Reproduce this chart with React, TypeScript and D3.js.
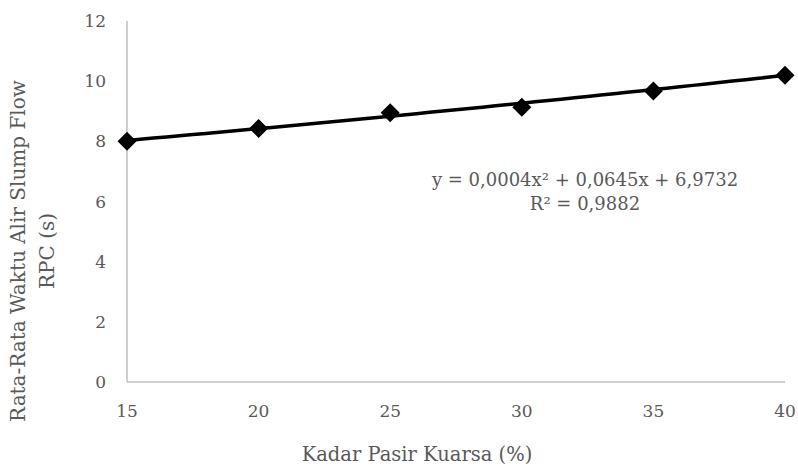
import React, { useEffect, useRef } from 'react'
import * as d3 from 'd3'

// data
const kadar = [15, 20, 25, 30, 35, 40]
const waktuAlir = [8.0, 8.43, 8.95, 9.13, 9.67, 10.2]
const yTicks = [0, 2, 4, 6, 8, 10, 12]
const xTicks = [15, 20, 25, 30, 35, 40]
// polynomial trendline coefficients (as printed on chart)
const trendCoef = [6.9732, 0.0645, 0.0004]
const eqLines = ['y = 0,0004x² + 0,0645x + 6,9732', 'R² = 0,9882']

const W = 798
const H = 468
const FONT = 'DejaVu Serif, serif'
const GREY = '#595959'

function App() {
  const ref = useRef<SVGSVGElement>(null)

  useEffect(() => {
    const svg = d3.select(ref.current)
    svg.selectAll('*').remove()

    const x = d3.scaleLinear().domain([15, 40]).range([127, 785])
    const y = d3.scaleLinear().domain([0, 12]).range([382, 21])

    // axes lines
    svg.append('line')
      .attr('x1', x(15)).attr('x2', x(15)).attr('y1', y(12)).attr('y2', y(0))
      .attr('stroke', '#bfbfbf').attr('stroke-width', 1.5)
    svg.append('line')
      .attr('x1', x(15)).attr('x2', x(40)).attr('y1', y(0)).attr('y2', y(0))
      .attr('stroke', '#bfbfbf').attr('stroke-width', 1.5)

    svg.selectAll('.ytick').data(yTicks).enter().append('text')
      .attr('class', 'ytick')
      .attr('x', 106).attr('y', d => y(d) + 6)
      .attr('text-anchor', 'end')
      .style('font-family', FONT).style('font-size', '17px').style('fill', GREY)
      .text(d => d)

    svg.selectAll('.xtick').data(xTicks).enter().append('text')
      .attr('class', 'xtick')
      .attr('x', d => x(d)).attr('y', 417)
      .attr('text-anchor', 'middle')
      .style('font-family', FONT).style('font-size', '17px').style('fill', GREY)
      .text(d => d)

    // axis titles
    svg.append('text')
      .attr('x', 417).attr('y', 461)
      .attr('text-anchor', 'middle')
      .style('font-family', FONT).style('font-size', '19.5px').style('fill', GREY)
      .text('Kadar Pasir Kuarsa (%)')

    const yt = svg.append('text')
      .attr('transform', 'translate(0,' + 251 + ') rotate(-90)')
      .attr('text-anchor', 'middle')
      .style('font-family', FONT).style('font-size', '20px').style('fill', GREY)
    yt.append('tspan').attr('x', 0).attr('y', 25).text('Rata-Rata Waktu Alir Slump Flow')
    yt.append('tspan').attr('x', 0).attr('y', 54).text('RPC (s)')

    // trendline
    const trendXs = d3.range(15, 40.01, 0.5)
    const trend = d3.line<number>()
      .x(d => x(d))
      .y(d => y(trendCoef[0] + trendCoef[1] * d + trendCoef[2] * d * d))
    svg.append('path')
      .datum(trendXs)
      .attr('d', trend)
      .attr('fill', 'none').attr('stroke', '#000').attr('stroke-width', 3.5)

    // markers
    const pts = kadar.map((k, i) => ({ k, v: waktuAlir[i] }))
    svg.selectAll('.pt').data(pts).enter().append('path')
      .attr('class', 'pt')
      .attr('transform', d => 'translate(' + x(d.k) + ',' + y(d.v) + ')')
      .attr('d', d3.symbol().type(d3.symbolDiamond2).size(230))
      .attr('fill', '#000')

    // equation label
    svg.selectAll('.eq').data(eqLines).enter().append('text')
      .attr('class', 'eq')
      .attr('x', 585).attr('y', (d, i) => 186 + i * 24)
      .attr('text-anchor', 'middle')
      .style('font-family', FONT).style('font-size', '18px').style('fill', GREY)
      .text(d => d)
  }, [])

  return (
    <svg ref={ref} width={W} height={H} style={{ position: 'absolute', left: 0, top: 0, background: '#fff' }} />
  )
}

export default App
